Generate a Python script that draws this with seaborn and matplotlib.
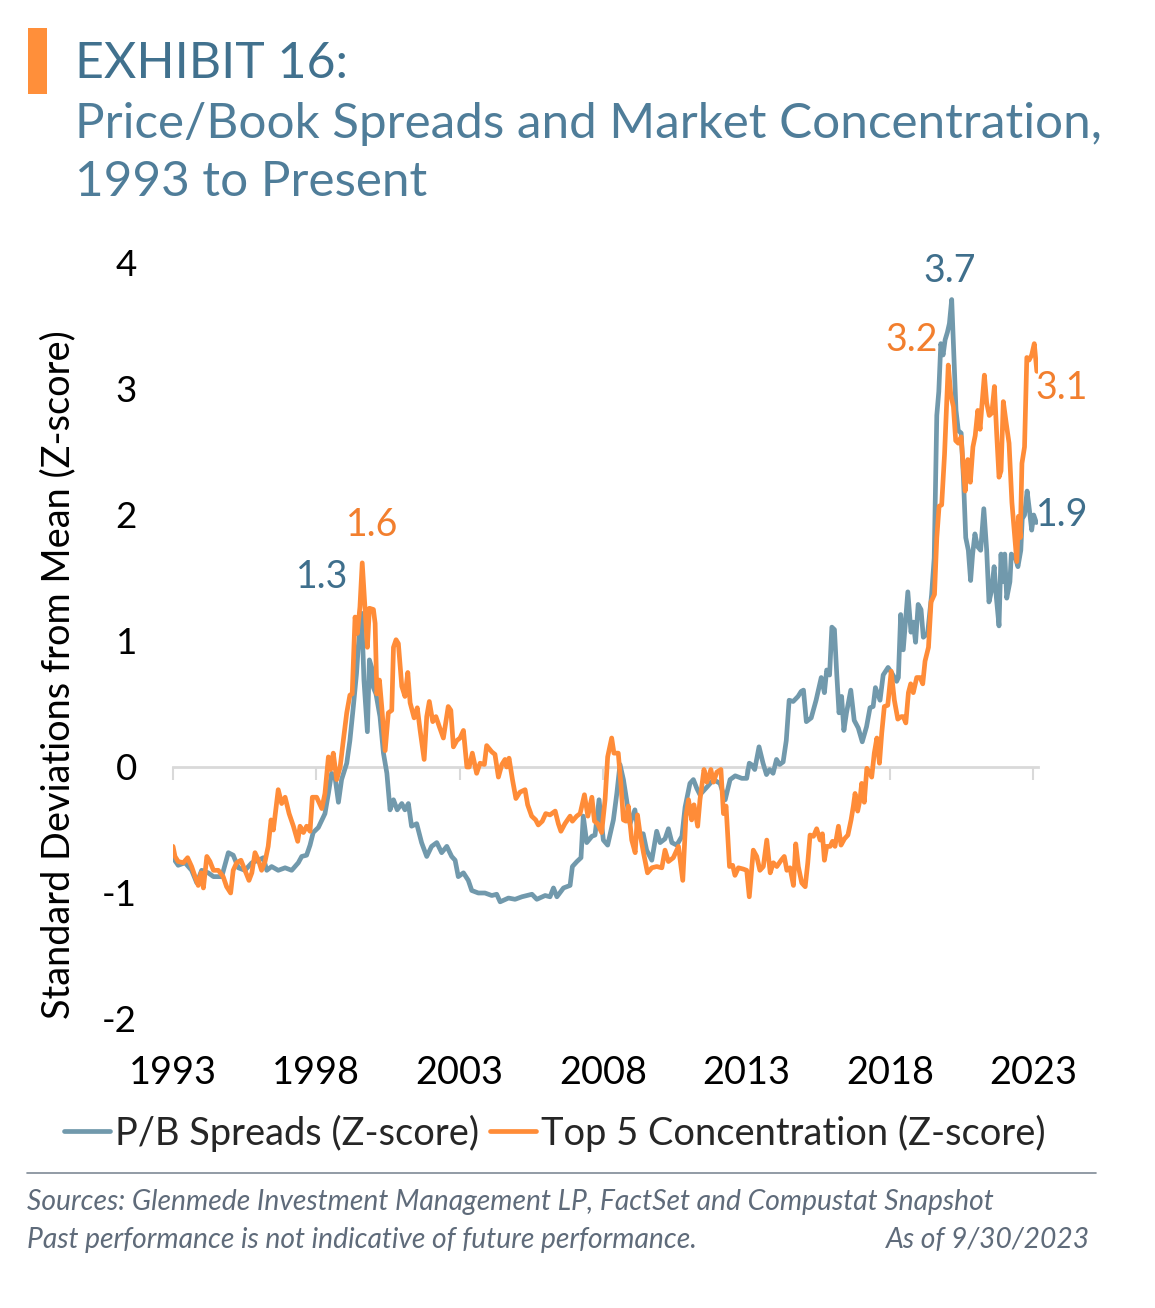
import matplotlib
matplotlib.use("Agg")
import matplotlib.pyplot as plt
import seaborn as sns
import pandas as pd
from matplotlib.patches import Rectangle
from matplotlib.lines import Line2D

# ---------------- data ----------------
pb_years = [1993.00, 1993.18, 1993.42, 1993.65, 1993.83, 1994.00, 1994.23, 1994.41, 1994.70, 1994.93,
            1995.10, 1995.28, 1995.51, 1995.75, 1995.98, 1996.15, 1996.27, 1996.44, 1996.67, 1996.91,
            1997.14, 1997.37, 1997.49, 1997.66, 1997.78, 1997.89, 1998.07, 1998.30, 1998.42, 1998.53,
            1998.65, 1998.77, 1998.88, 1999.06, 1999.17, 1999.29, 1999.40, 1999.46, 1999.58, 1999.66,
            1999.78, 1999.85, 1999.93, 1999.99, 2000.08, 2000.22, 2000.34, 2000.46, 2000.57, 2000.69,
            2000.82, 2000.98, 2001.09, 2001.21, 2001.32, 2001.50, 2001.67, 2001.85, 2002.02, 2002.20,
            2002.37, 2002.55, 2002.72, 2002.84, 2002.95, 2003.13, 2003.30, 2003.42, 2003.65, 2003.88,
            2004.12, 2004.29, 2004.41, 2004.70, 2004.93, 2005.17, 2005.34, 2005.52, 2005.69, 2005.98,
            2006.15, 2006.27, 2006.39, 2006.62, 2006.85, 2006.93, 2007.09, 2007.23, 2007.31, 2007.43,
            2007.61, 2007.72, 2007.86, 2008.01, 2008.16, 2008.36, 2008.48, 2008.59, 2008.71, 2008.82,
            2008.94, 2009.11, 2009.23, 2009.40, 2009.52, 2009.70, 2009.87, 2009.99, 2010.16, 2010.28,
            2010.40, 2010.57, 2010.75, 2010.86, 2011.03, 2011.15, 2011.27, 2011.38, 2011.62, 2011.85,
            2012.08, 2012.26, 2012.43, 2012.61, 2012.84, 2013.01, 2013.10, 2013.17, 2013.29, 2013.44,
            2013.58, 2013.70, 2013.81, 2013.93, 2014.05, 2014.16, 2014.28, 2014.39, 2014.49, 2014.63,
            2014.80, 2014.91, 2014.99, 2015.09, 2015.26, 2015.43, 2015.61, 2015.72, 2015.80, 2015.90,
            2015.98, 2016.07, 2016.15, 2016.23, 2016.32, 2016.40, 2016.49, 2016.64, 2016.76, 2016.90,
            2017.04, 2017.19, 2017.31, 2017.42, 2017.50, 2017.66, 2017.77, 2017.94, 2018.06, 2018.24,
            2018.30, 2018.38, 2018.47, 2018.63, 2018.74, 2018.82, 2018.90, 2018.99, 2019.09, 2019.17,
            2019.32, 2019.46, 2019.55, 2019.64, 2019.71, 2019.78, 2019.86, 2019.93, 2020.01, 2020.08,
            2020.16, 2020.24, 2020.31, 2020.39, 2020.49, 2020.57, 2020.65, 2020.74, 2020.82, 2020.89,
            2020.97, 2021.06, 2021.17, 2021.28, 2021.38, 2021.46, 2021.55, 2021.64, 2021.72, 2021.81,
            2021.88, 2021.93, 2022.01, 2022.08, 2022.19, 2022.24, 2022.38, 2022.47, 2022.57, 2022.62,
            2022.70, 2022.79, 2022.87, 2022.95, 2023.02, 2023.11]
pb_values = [-0.72, -0.78, -0.76, -0.82, -0.92, -0.82, -0.84, -0.87, -0.87, -0.68,
             -0.70, -0.80, -0.82, -0.76, -0.74, -0.72, -0.82, -0.79, -0.82, -0.80,
             -0.82, -0.76, -0.71, -0.70, -0.62, -0.52, -0.48, -0.37, -0.21, -0.05,
             -0.08, -0.28, -0.10, 0.03, 0.21, 0.48, 0.74, 0.95, 1.22, 0.69,
             0.28, 0.85, 0.79, 0.63, 0.58, 0.40, 0.11, -0.05, -0.34, -0.26,
             -0.34, -0.29, -0.34, -0.29, -0.47, -0.45, -0.60, -0.71, -0.63, -0.60,
             -0.68, -0.63, -0.71, -0.74, -0.87, -0.84, -0.90, -0.98, -1.00, -1.00,
             -1.02, -1.01, -1.07, -1.04, -1.05, -1.03, -1.02, -1.01, -1.05, -1.02,
             -1.03, -0.96, -1.03, -0.96, -0.94, -0.79, -0.75, -0.72, -0.39, -0.60,
             -0.55, -0.54, -0.26, -0.58, -0.62, -0.42, -0.21, 0.02, -0.10, -0.26,
             -0.45, -0.34, -0.53, -0.53, -0.66, -0.74, -0.51, -0.60, -0.57, -0.49,
             -0.60, -0.62, -0.55, -0.32, -0.13, -0.10, -0.17, -0.22, -0.16, -0.10,
             -0.13, -0.26, -0.10, -0.07, -0.09, -0.09, 0.03, 0.02, -0.02, 0.16,
             0.03, -0.06, -0.02, -0.05, 0.06, 0.02, 0.04, 0.21, 0.53, 0.52,
             0.56, 0.60, 0.61, 0.36, 0.39, 0.53, 0.71, 0.59, 0.77, 0.73,
             1.11, 1.09, 0.74, 0.43, 0.56, 0.29, 0.43, 0.61, 0.37, 0.31,
             0.20, 0.32, 0.47, 0.48, 0.63, 0.53, 0.73, 0.79, 0.75, 0.68,
             0.71, 1.21, 0.93, 1.39, 1.07, 1.15, 0.99, 1.29, 1.25, 1.03,
             1.06, 1.37, 1.66, 2.79, 2.98, 3.36, 3.27, 3.39, 3.45, 3.52,
             3.71, 3.23, 2.83, 2.67, 2.65, 2.29, 1.82, 1.72, 1.48, 1.69,
             1.85, 1.75, 1.72, 2.05, 1.72, 1.31, 1.40, 1.59, 1.34, 1.12,
             1.69, 1.47, 1.69, 1.34, 1.47, 1.69, 1.66, 1.59, 1.72, 1.97,
             2.00, 2.19, 2.04, 1.88, 2.00, 1.94]

conc_years = [1993.00, 1993.07, 1993.18, 1993.36, 1993.51, 1993.65, 1993.77, 1993.88, 1993.98, 1994.06,
              1994.18, 1994.29, 1994.41, 1994.58, 1994.75, 1994.87, 1995.01, 1995.10, 1995.22, 1995.37,
              1995.51, 1995.65, 1995.75, 1995.86, 1995.98, 1996.09, 1996.21, 1996.32, 1996.42, 1996.50,
              1996.67, 1996.79, 1996.91, 1997.05, 1997.20, 1997.35, 1997.43, 1997.55, 1997.66, 1997.78,
              1997.86, 1998.01, 1998.19, 1998.30, 1998.42, 1998.50, 1998.59, 1998.71, 1998.83, 1998.94,
              1999.06, 1999.17, 1999.25, 1999.35, 1999.43, 1999.52, 1999.60, 1999.70, 1999.78, 1999.85,
              1999.99, 2000.05, 2000.11, 2000.20, 2000.28, 2000.40, 2000.51, 2000.63, 2000.69, 2000.78,
              2000.86, 2000.98, 2001.09, 2001.19, 2001.27, 2001.41, 2001.52, 2001.62, 2001.76, 2001.85,
              2001.94, 2002.06, 2002.17, 2002.29, 2002.43, 2002.60, 2002.69, 2002.78, 2002.90, 2003.01,
              2003.13, 2003.25, 2003.33, 2003.44, 2003.59, 2003.71, 2003.86, 2003.94, 2004.12, 2004.23,
              2004.35, 2004.47, 2004.58, 2004.64, 2004.72, 2004.84, 2004.96, 2005.10, 2005.28, 2005.37,
              2005.51, 2005.65, 2005.74, 2005.88, 2006.00, 2006.15, 2006.33, 2006.44, 2006.53, 2006.67,
              2006.85, 2006.93, 2007.08, 2007.20, 2007.35, 2007.47, 2007.61, 2007.70, 2007.81, 2007.95,
              2008.07, 2008.16, 2008.30, 2008.38, 2008.53, 2008.62, 2008.71, 2008.80, 2008.88, 2009.00,
              2009.12, 2009.20, 2009.29, 2009.41, 2009.55, 2009.70, 2009.87, 2010.05, 2010.16, 2010.28,
              2010.45, 2010.63, 2010.78, 2010.89, 2010.98, 2011.09, 2011.17, 2011.30, 2011.38, 2011.52,
              2011.62, 2011.76, 2011.85, 2011.97, 2012.11, 2012.20, 2012.29, 2012.41, 2012.52, 2012.60,
              2012.72, 2012.89, 2013.01, 2013.10, 2013.24, 2013.36, 2013.47, 2013.59, 2013.71, 2013.83,
              2013.94, 2014.06, 2014.21, 2014.32, 2014.41, 2014.52, 2014.64, 2014.72, 2014.81, 2014.93,
              2015.05, 2015.14, 2015.22, 2015.34, 2015.45, 2015.57, 2015.65, 2015.72, 2015.80, 2015.92,
              2016.00, 2016.09, 2016.21, 2016.30, 2016.42, 2016.54, 2016.65, 2016.73, 2016.79, 2016.88,
              2016.96, 2017.02, 2017.11, 2017.20, 2017.28, 2017.37, 2017.46, 2017.55, 2017.64, 2017.72,
              2017.81, 2017.93, 2018.05, 2018.16, 2018.28, 2018.40, 2018.47, 2018.56, 2018.65, 2018.73,
              2018.82, 2018.94, 2019.06, 2019.15, 2019.23, 2019.35, 2019.44, 2019.56, 2019.64, 2019.72,
              2019.81, 2019.91, 2019.99, 2020.04, 2020.13, 2020.22, 2020.30, 2020.39, 2020.49, 2020.57,
              2020.63, 2020.72, 2020.81, 2020.90, 2020.98, 2021.07, 2021.15, 2021.21, 2021.30, 2021.38,
              2021.47, 2021.56, 2021.65, 2021.73, 2021.81, 2021.88, 2021.96, 2022.06, 2022.16, 2022.26,
              2022.35, 2022.43, 2022.49, 2022.55, 2022.61, 2022.70, 2022.78, 2022.86, 2022.95, 2023.04,
              2023.13]
conc_values = [-0.63, -0.71, -0.75, -0.76, -0.72, -0.79, -0.87, -0.94, -0.84, -0.96,
               -0.71, -0.75, -0.82, -0.82, -0.87, -0.95, -1.00, -0.82, -0.76, -0.74,
               -0.82, -0.90, -0.84, -0.68, -0.74, -0.82, -0.75, -0.63, -0.42, -0.50,
               -0.18, -0.29, -0.24, -0.37, -0.47, -0.59, -0.47, -0.52, -0.47, -0.51,
               -0.24, -0.24, -0.33, -0.21, 0.08, -0.02, 0.11, -0.10, 0.00, 0.21,
               0.43, 0.57, 0.58, 1.19, 1.06, 1.27, 1.62, 1.25, 0.95, 1.26,
               1.25, 1.14, 0.58, 0.69, 0.48, 0.13, 0.43, 0.45, 0.95, 1.01,
               0.98, 0.64, 0.56, 0.75, 0.51, 0.39, 0.47, 0.29, 0.06, 0.40,
               0.52, 0.36, 0.40, 0.32, 0.23, 0.48, 0.45, 0.16, 0.21, 0.23,
               0.29, 0.00, 0.00, 0.11, -0.05, 0.03, 0.02, 0.17, 0.12, 0.10,
               -0.08, 0.02, 0.06, 0.00, 0.07, -0.10, -0.25, -0.20, -0.18, -0.30,
               -0.39, -0.42, -0.46, -0.43, -0.37, -0.38, -0.35, -0.45, -0.51, -0.45,
               -0.39, -0.43, -0.39, -0.37, -0.22, -0.39, -0.24, -0.43, -0.45, -0.52,
               -0.26, 0.08, 0.23, 0.11, 0.11, -0.13, -0.42, -0.43, -0.31, -0.58,
               -0.68, -0.38, -0.53, -0.68, -0.84, -0.80, -0.79, -0.80, -0.66, -0.75,
               -0.72, -0.63, -0.90, -0.39, -0.26, -0.42, -0.30, -0.47, -0.26, -0.02,
               -0.12, -0.02, -0.12, -0.04, -0.02, -0.37, -0.31, -0.79, -0.78, -0.86,
               -0.80, -0.81, -0.82, -1.03, -0.66, -0.71, -0.82, -0.79, -0.58, -0.84,
               -0.76, -0.79, -0.74, -0.71, -0.82, -0.80, -0.94, -0.61, -0.79, -0.92,
               -0.95, -0.76, -0.54, -0.55, -0.49, -0.58, -0.53, -0.74, -0.63, -0.63,
               -0.59, -0.63, -0.47, -0.62, -0.57, -0.54, -0.42, -0.31, -0.21, -0.35,
               -0.26, -0.13, -0.28, -0.01, -0.04, -0.08, 0.11, 0.23, 0.03, 0.27,
               0.48, 0.49, 0.76, 0.53, 0.38, 0.40, 0.40, 0.35, 0.59, 0.66,
               0.59, 0.71, 0.71, 0.66, 0.84, 0.95, 1.31, 1.37, 1.82, 2.07,
               2.08, 2.48, 2.92, 3.19, 2.95, 2.86, 2.59, 2.57, 2.62, 2.35,
               2.19, 2.44, 2.26, 2.54, 2.63, 2.83, 2.68, 2.86, 3.11, 2.89,
               2.79, 2.81, 3.02, 2.64, 2.30, 2.35, 2.90, 2.73, 2.57, 2.10,
               1.85, 1.63, 1.99, 1.82, 2.41, 2.54, 3.25, 3.23, 3.27, 3.36,
               3.14]

series_names = ["P/B Spreads (Z-score)", "Top 5 Concentration (Z-score)"]
x_tick_years = [1993, 1998, 2003, 2008, 2013, 2018, 2023]
y_ticks = [-2, -1, 0, 1, 2, 3, 4]

annot_text = ["3.7", "3.2", "3.1", "1.9", "1.6", "1.3"]
annot_series = [0, 1, 1, 0, 1, 0]

# ---------------- styling ----------------
BLUE_LINE = "#7199AC"
BLUE_TEXT = "#3F6F8C"
ORANGE_LINE = "#FF8C38"
ORANGE_TEXT = "#F27F2E"
TITLE = "#41718E"
SUBTITLE = "#4F7D99"

sns.set_theme(style="white")
plt.rcParams["font.family"] = ["Lato", "DejaVu Sans"]

df = pd.concat([
    pd.DataFrame({"year": pb_years, "value": pb_values, "series": series_names[0]}),
    pd.DataFrame({"year": conc_years, "value": conc_values, "series": series_names[1]}),
], ignore_index=True)

fig = plt.figure(figsize=(11.55, 13.08), dpi=100)
W, H = 1155, 1308
ax_left, ax_right, ax_top, ax_bot = 173, 1038, 263, 1019
ax = fig.add_axes([ax_left / W, 1 - ax_bot / H, (ax_right - ax_left) / W, (ax_bot - ax_top) / H])

sns.lineplot(data=df, x="year", y="value", hue="series", hue_order=series_names,
             palette=[BLUE_LINE, ORANGE_LINE], estimator=None, linewidth=3.4,
             legend=False, ax=ax, zorder=3)

ax.set_xlim(1993, 2023.17)
ax.set_ylim(-2, 4)
ax.set_xlabel("")
ax.set_ylabel("")

for s in ["top", "right", "left"]:
    ax.spines[s].set_visible(False)
ax.spines["bottom"].set_position(("data", 0))
ax.spines["bottom"].set_color("#D9D9D9")
ax.spines["bottom"].set_linewidth(2)
ax.set_xticks(x_tick_years)
ax.tick_params(axis="x", direction="out", length=9, width=1.5, color="#D9D9D9",
               labelbottom=False, bottom=True)
ax.set_yticks(y_ticks)
ax.set_yticklabels([str(v) for v in y_ticks])
ax.tick_params(axis="y", length=0, pad=26, labelsize=26.5, labelcolor="black")
ax.grid(False)

sec = ax.secondary_xaxis("bottom")
sec.set_xticks(x_tick_years)
sec.set_xticklabels([str(v) for v in x_tick_years])
sec.tick_params(length=0, pad=26, labelsize=27.3, labelcolor="black")
sec.spines["bottom"].set_visible(False)

# peak / last-value labels
annot_pos = [(2020.1, 3.94), (2018.78, 3.39), (2024.0, 3.01), (2024.0, 2.0), (1999.94, 1.92), (1998.2, 1.51)]
for txt, si, (xx, yy) in zip(annot_text, annot_series, annot_pos):
    ax.text(xx, yy, txt, ha="center", va="center", fontsize=27,
            color=BLUE_TEXT if si == 0 else ORANGE_TEXT, clip_on=False, zorder=5)

# y-axis title
fig.text(58 / W, 1 - 675 / H, "Standard Deviations from Mean (Z-score)", rotation=90,
         ha="center", va="center", fontsize=27.3, color="black")

# title block
fig.patches.append(Rectangle((28 / W, 1 - 94 / H), 19 / W, 66 / H, transform=fig.transFigure,
                             facecolor="#FF8F3A", edgecolor="none"))
fig.text(75 / W, 1 - 78 / H, "EXHIBIT 16:", fontsize=36, color=TITLE, ha="left", va="baseline")
fig.text(75 / W, 1 - 138 / H, "Price/Book Spreads and Market Concentration,", fontsize=35.6,
         color=SUBTITLE, fontweight="normal", ha="left", va="baseline")
fig.text(75 / W, 1 - 196 / H, "1993 to Present", fontsize=35.6, color=SUBTITLE, fontweight="normal",
         ha="left", va="baseline")

# legend
handles = [Line2D([], [], color=BLUE_LINE, lw=3.4), Line2D([], [], color=ORANGE_LINE, lw=3.4)]
fig.legend(handles, series_names, loc="center", bbox_to_anchor=(555 / W, 1 - 1133 / H),
           ncol=2, frameon=False, fontsize=27.4, handlelength=1.2, handletextpad=0.13,
           columnspacing=0.3, borderaxespad=0)

# separator and footnotes
fig.add_artist(Line2D([27 / W, 1096 / W], [1 - 1173 / H, 1 - 1173 / H], transform=fig.transFigure,
                      color="#7F8A96", lw=1.2))
FOOT = "#5F6B7A"
fig.text(27 / W, 1 - 1210 / H, "Sources: Glenmede Investment Management LP, FactSet and Compustat Snapshot",
         fontsize=20.3, style="italic", fontweight="normal", color=FOOT, ha="left", va="baseline")
fig.text(27 / W, 1 - 1248 / H, "Past performance is not indicative of future performance.",
         fontsize=20.3, style="italic", fontweight="normal", color=FOOT, ha="left", va="baseline")
fig.text(1090 / W, 1 - 1248 / H, "As of 9/30/2023",
         fontsize=20.3, style="italic", fontweight="normal", color=FOOT, ha="right", va="baseline")

fig.savefig("out.png", dpi=100, facecolor="white")
